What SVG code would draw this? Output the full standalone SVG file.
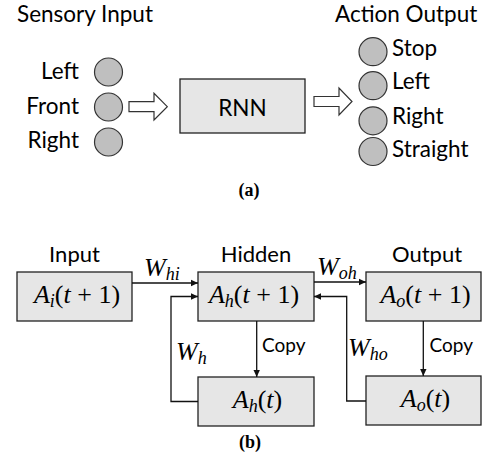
<svg xmlns="http://www.w3.org/2000/svg" width="488" height="465" viewBox="0 0 488 465">
<style>
.lbl{font-family:Lato,"Liberation Sans",sans-serif;font-size:22.5px;fill:#000}
.ttl{font-family:Lato,"Liberation Sans",sans-serif;font-size:22px;fill:#000}
.cp{font-family:Lato,"Liberation Sans",sans-serif;font-size:19px;fill:#000}
.cap{font-family:"Liberation Serif",serif;font-size:18px;font-weight:bold;fill:#000}
.math{font-family:"Liberation Serif",serif;font-size:26px;fill:#000}
.it{font-style:italic}
.sub{font-style:italic;font-size:18px}
.box{fill:#e6e6e6;stroke:#222;stroke-width:1.3}
.dot{fill:#bfbfbf;stroke:#333;stroke-width:1.2}
.hollow{fill:#fff;stroke:#333;stroke-width:1.2}
.wire{fill:none;stroke:#111;stroke-width:1.3}
</style>
<defs>
<marker id="ah" markerWidth="8" markerHeight="8" refX="7" refY="4" orient="auto" markerUnits="userSpaceOnUse">
<path d="M0,0.8 L7,4 L0,7.2 Z" fill="#111"/>
</marker>
</defs>

<g id="part-a">
<text class="lbl" x="17" y="21.5">Sensory Input</text>
<text class="lbl" x="335" y="22">Action Output</text>
<g id="in-left"><text class="lbl" x="79" y="79" text-anchor="end">Left</text><circle class="dot" cx="108.5" cy="72" r="14"/></g>
<g id="in-front"><text class="lbl" x="79" y="114" text-anchor="end">Front</text><circle class="dot" cx="108.5" cy="107" r="14"/></g>
<g id="in-right"><text class="lbl" x="79" y="148" text-anchor="end">Right</text><circle class="dot" cx="108.5" cy="142" r="14"/></g>
<g id="arrow-in"><polygon class="hollow" points="129,101.7 154,101.7 154,93.3 167.3,106.7 154,120 154,111.7 129,111.7"/></g>
<g id="rnn"><rect class="box" x="180" y="79" width="125" height="54"/><text class="lbl" x="242.5" y="116" text-anchor="middle">RNN</text></g>
<g id="arrow-out"><polygon class="hollow" points="314,96.5 339,96.5 339,88 352,101.5 339,115 339,106.5 314,106.5"/></g>
<g id="out-stop"><circle class="dot" cx="373" cy="51.7" r="14"/><text class="lbl" x="392" y="56">Stop</text></g>
<g id="out-left"><circle class="dot" cx="373" cy="85.7" r="14"/><text class="lbl" x="392" y="89">Left</text></g>
<g id="out-right"><circle class="dot" cx="373" cy="120.8" r="14"/><text class="lbl" x="392" y="124">Right</text></g>
<g id="out-straight"><circle class="dot" cx="373" cy="151.5" r="14"/><text class="lbl" x="392" y="157">Straight</text></g>
<text class="cap" x="249" y="196" text-anchor="middle">(a)</text>
</g>

<g id="part-b">
<text class="ttl" x="74.5" y="262" text-anchor="middle">Input</text>
<text class="ttl" x="256" y="262" text-anchor="middle">Hidden</text>
<text class="ttl" x="427" y="262" text-anchor="middle">Output</text>

<g id="input-node"><rect class="box" x="17" y="272" width="115" height="49"/>
<text class="math" x="77" y="303" text-anchor="middle"><tspan class="it">A</tspan><tspan class="sub" dy="4">i</tspan><tspan dy="-4">(</tspan><tspan class="it">t</tspan> + 1)</text></g>
<g id="hidden-node"><rect class="box" x="198" y="272" width="116" height="49"/>
<text class="math" x="254" y="303" text-anchor="middle"><tspan class="it">A</tspan><tspan class="sub" dy="4">h</tspan><tspan dy="-4">(</tspan><tspan class="it">t</tspan> + 1)</text></g>
<g id="output-node"><rect class="box" x="366" y="272" width="115" height="49"/>
<text class="math" x="425.5" y="303" text-anchor="middle"><tspan class="it">A</tspan><tspan class="sub" dy="4">o</tspan><tspan dy="-4">(</tspan><tspan class="it">t</tspan> + 1)</text></g>
<g id="hidden-copy"><rect class="box" x="198" y="377" width="116" height="49"/>
<text class="math" x="257.5" y="408" text-anchor="middle"><tspan class="it">A</tspan><tspan class="sub" dy="4">h</tspan><tspan dy="-4">(</tspan><tspan class="it">t</tspan>)</text></g>
<g id="output-copy"><rect class="box" x="366" y="376" width="115" height="49"/>
<text class="math" x="425.5" y="407" text-anchor="middle"><tspan class="it">A</tspan><tspan class="sub" dy="4">o</tspan><tspan dy="-4">(</tspan><tspan class="it">t</tspan>)</text></g>

<g id="connectors">
<path class="wire" d="M132,283 H198" marker-end="url(#ah)"/>
<path class="wire" d="M198,401.5 H171 V296.5 H198" marker-end="url(#ah)"/>
<path class="wire" d="M314,282 H366" marker-end="url(#ah)"/>
<path class="wire" d="M366,401 H346.7 V296.5 H314" marker-end="url(#ah)"/>
<path class="wire" d="M256.7,321 V377" marker-end="url(#ah)"/>
<path class="wire" d="M423.3,321 V376" marker-end="url(#ah)"/>
</g>
<g id="connector-labels">
<text class="math" x="144" y="276"><tspan class="it">W</tspan><tspan class="sub" dy="4">hi</tspan></text>
<text class="math" x="176" y="360"><tspan class="it">W</tspan><tspan class="sub" dy="4">h</tspan></text>
<text class="math" x="317" y="275"><tspan class="it">W</tspan><tspan class="sub" dy="4">oh</tspan></text>
<text class="math" x="348" y="356"><tspan class="it">W</tspan><tspan class="sub" dy="4">ho</tspan></text>
<text class="cp" x="262" y="352">Copy</text>
<text class="cp" x="429.5" y="352">Copy</text>
</g>
<text class="cap" x="250" y="448" text-anchor="middle">(b)</text>
</g>
</svg>
